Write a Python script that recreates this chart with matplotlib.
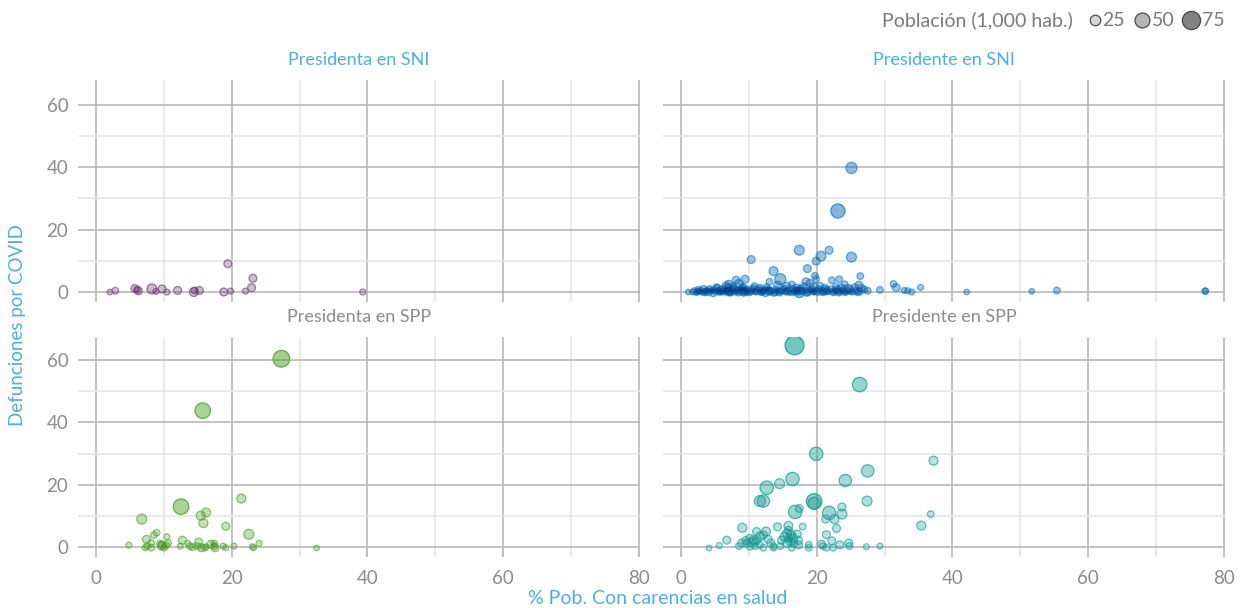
import numpy as np
import matplotlib.pyplot as plt
from matplotlib.colors import to_rgb

plt.rcParams['font.family'] = ['Lato', 'DejaVu Sans']

# Presidenta en SNI (morado)
x_ta_sni = [2.0, 2.8, 5.7, 6.2, 6.0, 8.2, 8.8, 9.7, 10.4, 12.0, 14.4, 14.5, 15.2, 18.8, 19.4,
            19.8, 22.0, 22.9, 23.1, 39.3]
y_ta_sni = [0.0, 0.4, 1.1, 0.4, 0.7, 1.0, 0.2, 1.0, 0.0, 0.5, 0.0, 0.5, 0.5, 0.0, 9.1,
            0.3, 0.3, 1.4, 4.4, 0.0]
p_ta_sni = [7, 10, 14, 14, 10, 22, 8, 14, 8, 14, 18, 10, 14, 14, 14,
            8, 8, 14, 14, 8]

# Presidente en SNI (azul)
x_te_sni = [25.1, 23.1, 17.4, 10.3, 20.6, 21.8, 19.9, 25.1, 13.6, 18.6, 14.6, 19.7, 26.4, 22.2,
            23.3, 24.1, 8.1, 9.4, 7.0, 13.0, 18.4, 19.9, 26.2, 31.3, 31.7, 35.3, 27.5, 29.3,
            33.4, 34.0, 32.9, 1.0, 42.1, 51.7, 55.4, 77.3, 77.3, 17.4,
            1.6, 1.9, 2.2, 2.5, 2.6, 2.9, 3.1, 3.3, 3.6, 3.8, 4.0, 4.2, 4.5, 4.7, 4.8, 5.1,
            5.3, 5.5, 5.6, 5.9, 6.1, 6.2, 6.4, 6.7, 6.9, 7.0, 7.2, 7.5, 7.6, 7.8, 8.0, 8.3,
            8.4, 8.7, 8.9, 9.0, 9.2, 9.5, 9.7, 9.8, 10.1, 10.4, 10.6, 10.9, 11.2, 11.5, 11.7,
            12.0, 12.3, 12.4, 12.8, 13.1, 13.3, 13.7, 14.0, 14.3, 14.5, 14.9, 15.2, 15.4, 15.8,
            16.1, 16.4, 16.7, 17.0, 17.2, 17.6, 17.9, 18.3, 18.5, 18.9, 19.2, 19.5, 19.8, 20.1,
            20.4, 20.8, 21.0, 21.4, 21.7, 22.1, 22.4, 22.7, 23.0, 23.4, 23.8, 24.2, 24.5, 24.9,
            25.3, 25.8, 26.3,
            5.2, 6.6, 7.6, 8.5, 9.1, 10.8, 11.6, 12.6, 14.2, 15.5, 16.3, 17.0, 18.1, 19.0, 19.5,
            20.5, 21.2, 22.8, 23.6, 24.6, 25.6, 26.6, 27.0,
            2.4, 3.5, 4.4, 5.8, 6.8, 7.3, 8.2, 9.3, 10.2, 11.0, 11.9, 12.9, 13.9, 14.7, 15.6,
            16.6, 17.5, 18.7, 19.6, 20.6, 21.5, 22.5, 23.2, 24.0, 25.0, 26.0]
y_te_sni = [39.8, 26.0, 13.4, 10.4, 11.5, 13.4, 9.9, 11.2, 6.7, 7.5, 4.1, 5.2, 5.1, 3.8,
            4.1, 2.5, 3.8, 4.1, 2.5, 3.3, 3.3, 4.1, 2.2, 2.6, 1.4, 1.5, 0.4, 0.7,
            0.4, 0.0, 0.5, 0.0, 0.0, 0.2, 0.5, 0.3, 0.3, 0.0,
            0.0, 0.3, -0.2, 0.6, 0.1, 0.4, -0.1, 0.8, 0.2, 0.5, 0.0, 1.0, 0.3, -0.2, 0.7, 0.1,
            1.2, 0.4, -0.1, 0.6, 0.2, 1.0, 0.0, 0.5, 1.3, 0.2, -0.2, 0.8, 0.3, 1.1, 0.0, 0.6,
            -0.1, 0.9, 0.3, 1.4, 0.1, 0.5, -0.2, 0.8, 0.2, 0.6, 1.1, 0.0, 0.4, 0.9, -0.1,
            0.3, 0.7, 0.0, 1.0, 0.2, 0.5, -0.2, 0.8, 0.3, 0.0, 0.6, 1.2, 0.1, 0.4,
            -0.2, 0.9, 0.3, 0.5, 0.0, 1.1, 0.2, 0.6, -0.1, 0.4, 0.8, 0.0, 0.5, 0.2,
            1.0, 0.3, -0.1, 0.6, 0.2, 0.9, 0.0, 0.4, 0.7, 0.1, 0.5, -0.2, 0.3, 0.8,
            0.0, 0.4, 0.2,
            1.6, 2.0, 1.8, 2.6, 1.5, 1.9, 1.2, 1.6, 2.2, 1.7, 2.4, 1.3, 1.9, 2.8, 1.5,
            2.0, 1.2, 1.8, 1.3, 1.0, 1.6, 1.1, 0.8,
            0.2, 0.0, 0.5, 0.1, 0.3, 0.0, 0.4, 0.2, 0.0, 0.3, 0.1, 0.4, 0.0, 0.2, 0.3,
            0.0, 0.4, 0.1, 0.2, 0.0, 0.3, 0.1, 0.0, 0.2, 0.1, 0.0]
p_te_sni = [28, 45, 22, 14, 22, 14, 14, 22, 18, 14, 28, 10, 10, 10,
            10, 10, 14, 14, 14, 10, 14, 10, 14, 10, 14, 8, 10, 10,
            8, 8, 8, 7, 7, 7, 10, 10, 8, 28,
            7, 10, 8, 12, 7, 10, 8, 14, 10, 8, 12, 10, 7, 14, 10, 8,
            12, 10, 8, 14, 10, 12, 8, 10, 14, 18, 8, 12, 10, 14, 8, 10,
            12, 8, 14, 10, 18, 12, 8, 10, 14, 10, 12, 8, 14, 10, 8,
            12, 10, 18, 8, 14, 10, 12, 8, 10, 14, 12, 8, 10, 14,
            8, 12, 10, 14, 8, 10, 12, 8, 14, 10, 12, 8, 10, 14,
            8, 12, 10, 14, 8, 10, 12, 8, 14, 10, 12, 8, 10, 14,
            8, 10, 12,
            10, 14, 10, 18, 14, 10, 14, 10, 14, 18, 10, 14, 10, 14, 18,
            10, 14, 10, 14, 18, 10, 14, 10,
            10, 12, 8, 10, 12, 14, 10, 12, 8, 10, 12, 14, 10, 8, 12,
            10, 12, 14, 10, 8, 12, 10, 14, 10, 8, 12]

# Presidenta en SPP (verde)
x_ta_spp = [27.3, 15.7, 12.5, 21.4, 6.7, 15.4, 16.2, 15.8, 19.1, 22.5, 7.4, 8.5, 8.9, 10.4,
            4.8, 12.7, 15.1, 16.9, 13.5, 24.0, 20.3, 23.0, 23.2, 32.5,
            7.2, 7.5, 8.1, 8.1, 9.4, 9.6, 10.0, 10.3, 10.6, 9.7,
            12.4, 13.8, 14.2, 14.9, 15.5, 16.0, 16.2, 17.4, 17.5, 17.4, 18.7, 19.1]
y_ta_spp = [60.5, 43.8, 12.9, 15.5, 8.9, 10.0, 11.0, 7.6, 6.6, 4.0, 2.4, 3.8, 4.5, 3.2,
            0.5, 2.1, 1.5, 0.8, 1.1, 1.1, 0.2, 0.0, -0.3, -0.4,
            -0.3, 0.2, 1.2, -0.3, 1.0, 0.2, -0.3, 0.4, 1.2, 0.6,
            0.2, 0.2, -0.1, 0.2, -0.3, -0.3, 0.0, 0.2, -0.3, 1.0, 0.2, -0.3]
p_ta_spp = [62, 54, 54, 18, 22, 18, 18, 18, 14, 22, 14, 10, 10, 8,
            8, 14, 14, 14, 8, 8, 8, 8, 8, 7,
            8, 10, 10, 10, 10, 14, 10, 10, 10, 14,
            8, 10, 10, 10, 14, 10, 8, 10, 14, 10, 8, 8]

# Presidente en SPP (turquesa)
x_te_spp = [16.7, 26.3, 19.9, 37.2, 27.5, 24.2, 16.4, 12.6, 14.5, 11.6, 12.1, 19.6, 19.6, 27.4,
            16.8, 17.4, 21.8, 23.7, 23.7, 21.3, 22.6, 22.9, 36.8, 35.4, 9.0, 14.2, 15.8, 17.9,
            21.4, 22.2, 6.7, 5.6, 4.1,
            8.5, 8.9, 9.5, 10.1, 10.7, 11.1, 11.6, 12.1, 12.5, 12.8, 13.2, 11.6, 10.1, 10.9,
            12.1, 13.6, 9.7, 10.4, 11.1,
            14.8, 15.2, 15.6, 15.9, 16.2, 16.1, 15.8, 16.5, 16.6, 17.3, 16.3, 14.6, 17.1, 15.6,
            18.8, 20.7, 20.9, 21.4, 22.4, 23.4, 24.7, 24.8, 27.3, 29.3, 18.8, 17.3, 13.6]
y_te_spp = [64.8, 52.2, 29.9, 27.7, 24.4, 21.3, 21.8, 19.0, 20.3, 14.7, 14.7, 14.6, 14.0, 14.7,
            11.2, 12.3, 10.9, 12.8, 10.5, 8.9, 8.9, 5.9, 10.5, 6.8, 6.1, 6.4, 6.7, 6.5,
            3.9, 1.9, 2.1, 0.4, -0.4,
            0.2, 1.2, 2.0, 2.7, 2.1, 4.9, 3.3, 3.8, 4.9, 2.4, 1.2, 0.6, 0.0, 0.2,
            -0.3, -0.3, 1.2, 1.4, 2.0,
            2.1, 3.2, 4.3, 2.7, 3.8, 1.6, 5.3, 2.7, 1.2, 2.0, -0.3, 0.2, 4.1, 1.2,
            0.6, 0.8, 0.2, -0.3, -0.3, 0.6, 1.2, 0.2, 0.0, 0.2, -0.3, 0.6, 0.2]
p_te_spp = [80, 47, 40, 18, 34, 34, 40, 40, 22, 28, 34, 54, 34, 22,
            40, 14, 40, 14, 22, 14, 18, 14, 10, 18, 18, 14, 18, 10,
            14, 14, 14, 8, 7,
            10, 14, 14, 14, 18, 14, 18, 14, 18, 14, 14, 10, 10, 10,
            10, 10, 14, 18, 14,
            14, 18, 18, 14, 18, 14, 14, 18, 14, 14, 10, 10, 14, 18,
            10, 14, 10, 10, 10, 14, 14, 10, 8, 8, 10, 14, 10]

# leyenda de tamaño
pob_ref = [25, 50, 75]
alfa_ref = [0.17, 0.3, 0.52]

# titulo, x, y, poblacion, color, color oscuro, alfa de la capa oscura, color del titulo
paneles = [
    ('Presidenta en SNI', x_ta_sni, y_ta_sni, p_ta_sni, '#7d4f82', '#2e0a36', 0.12, '#4ab0e2'),
    ('Presidente en SNI', x_te_sni, y_te_sni, p_te_sni, '#1f9be0', '#00206e', 0.2, '#4ab0e2'),
    ('Presidenta en SPP', x_ta_spp, y_ta_spp, p_ta_spp, '#5fb236', '#105a00', 0.09, '#8c8c8c'),
    ('Presidente en SPP', x_te_spp, y_te_spp, p_te_spp, '#22aea6', '#005a58', 0.09, '#8c8c8c'),
]

W, H = 1244, 608
fig = plt.figure(figsize=(W / 100, H / 100), dpi=100)

# posiciones en pixeles: izquierda, arriba, ancho, alto
cajas = [(78, 80, 562, 222), (663, 80, 562, 222), (78, 337, 562, 220), (663, 337, 562, 220)]
ylims = [(-3.2, 68.0), (-3.2, 68.0), (-3.3, 67.5), (-3.3, 67.5)]

gris = '#8c8c8c'


def tamano(p):
    return 2.3 * np.asarray(p, dtype=float)


def opacidad(p):
    return np.clip(0.13 + 0.0055 * np.asarray(p, dtype=float), 0, 1)


for i, (titulo, x, y, p, color, oscuro, a_osc, ctitulo) in enumerate(paneles):
    l, t, w, h = cajas[i]
    ax = fig.add_axes([l / W, 1 - (t + h) / H, w / W, h / H])
    ax.set_xlim(-2.7, 80.2)
    ax.set_ylim(*ylims[i])
    for s in ax.spines.values():
        s.set_visible(False)
    ax.set_xticks([0, 20, 40, 60, 80])
    ax.set_xticks([10, 30, 50, 70], minor=True)
    ax.set_yticks([0, 20, 40, 60])
    ax.set_yticks([10, 30, 50], minor=True)
    ax.grid(which='major', color='#b8b8b8', lw=1.2)
    ax.grid(which='minor', color='#e4e4e4', lw=1.1)
    ax.set_axisbelow(True)
    ax.tick_params(which='both', length=0, labelsize=13.5, labelcolor=gris)
    ax.tick_params(axis='x', pad=9)
    ax.tick_params(axis='y', pad=7)
    if i < 2:
        ax.tick_params(axis='x', labelbottom=False)
    if i % 2 == 1:
        ax.tick_params(axis='y', labelleft=False)

    a = opacidad(p)
    rgb = np.array(to_rgb(color))
    caras = np.column_stack([np.tile(rgb, (len(a), 1)), a])
    bordes = np.column_stack([np.tile(rgb, (len(a), 1)), np.clip(a + 0.5, 0, 1)])
    ax.scatter(x, y, s=tamano(p), facecolors=caras, edgecolors=bordes, linewidths=0.9, zorder=3)
    # capa oscura tenue: los puntos superpuestos se oscurecen
    ax.scatter(x, y, s=tamano(p), color=oscuro, alpha=a_osc, linewidths=0, zorder=4)

    fig.text((l + w / 2) / W, 1 - (t - 20) / H, titulo, ha='center', va='center',
             fontsize=13, color=ctitulo)

fig.text(18 / W, 1 - 325 / H, 'Defunciones por COVID', rotation=90, ha='center', va='center',
         fontsize=13.5, color='#4ab0e2')
fig.text(658 / W, 1 - 598 / H, '% Pob. Con carencias en salud', ha='center', va='center',
         fontsize=14, color='#4ab0e2')

# leyenda dibujada a mano en coordenadas de pixel
lg = fig.add_axes([0, 0, 1, 1], zorder=10)
lg.set_xlim(0, W)
lg.set_ylim(H, 0)
lg.axis('off')
lg.text(1073, 20, 'Población (1,000 hab.)', ha='right', va='center', fontsize=14, color='#7a7a7a')
xc = [1095, 1142, 1191]
for cx, v, av in zip(xc, pob_ref, alfa_ref):
    lg.scatter([cx], [20], s=tamano(v), facecolors=[(0.05, 0.05, 0.05, av)],
               edgecolors=[(0.2, 0.2, 0.2, 0.85)], linewidths=0.9)
    r = np.sqrt(tamano(v)) / 0.72 / 2
    lg.text(cx + r + 2, 20, str(v), ha='left', va='center', fontsize=14, color='#7a7a7a')

fig.savefig('out.png', dpi=100)
